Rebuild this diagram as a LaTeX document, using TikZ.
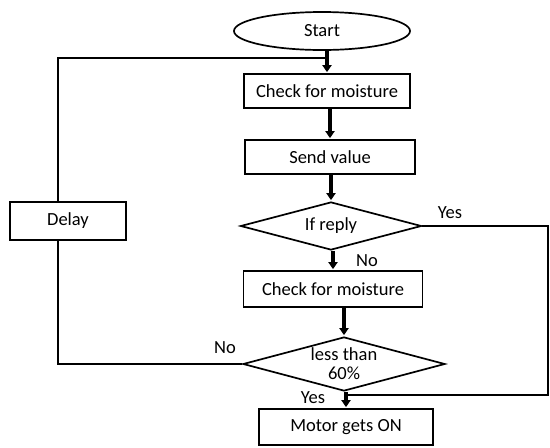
\documentclass[tikz,border=0pt]{standalone}
\usepackage{fontspec}
\setmainfont{Carlito}
\usetikzlibrary{arrows.meta,shapes.geometric}

\begin{document}
\begin{tikzpicture}[x=1pt,y=-1pt,>={Triangle[length=7pt,width=9pt]},
  font=\fontsize{18.5}{19}\selectfont,
  stepbox/.style={draw,line width=1.7pt,minimum height=34pt,inner sep=0pt},
  decide/.style={draw,diamond,line width=1.7pt,aspect=3.8,inner sep=0pt,align=center},
  flow/.style={->,line width=4.8pt,shorten >=1pt},
  back/.style={line width=2.4pt}]

\useasboundingbox (0,0) rectangle (550,448);

% Main column of the flowchart.
\node[draw,ellipse,line width=1.7pt,minimum width=176pt,minimum height=38pt] (start) at (322,31) {Start};
\node[stepbox,minimum width=166pt] (chk1) at (327,91) {Check for moisture};
\node[stepbox,minimum width=170pt] (send) at (330,157) {Send value};
\node[decide,minimum width=181pt,minimum height=48pt] (ifr) at (331,226) {If reply};
\node[stepbox,minimum width=179pt,minimum height=36pt] (chk2) at (333,289) {Check for moisture};
\node[decide,minimum width=202pt,minimum height=54pt] (less) at (344,364) {less than\\60\%};
\node[stepbox,minimum width=174pt,minimum height=36pt] (motor) at (346,427) {Motor gets ON};
\node[stepbox,minimum width=116pt,minimum height=38pt] (delay) at (68,221) {Delay};

% Downward arrows.
\draw[flow] (start.south -| chk1) -- (chk1.north);
\draw[flow] (chk1.south -| send) -- (send.north);
\draw[flow] (send.south -| ifr) -- (ifr.north);
\draw[flow] (ifr.south -| chk2) -- (chk2.north);
\draw[flow] (chk2.south -| less) -- (less.north);
\draw[flow] (less.south -| motor) -- (motor.north);

% Return loop through the delay.
\coordinate (top) at (58,58);
\coordinate (join) at (328,58);
\draw[back] (less.west) -- (less.west -| top) -- (delay.south -| top);
\draw[back] (delay.north -| top) -- (top) -- (join);

% Yes branch of the reply test.
\coordinate (rt) at (548,226);
\coordinate (yesin) at (346,395);
\draw[back] (ifr.east) -- (rt) |- (yesin);

% Branch labels.
\node (yes1) at (450,213) {Yes};
\node (no1) at (367,261) {No};
\node (no2) at (225,348) {No};
\node (yes2) at (313,398) {Yes};

\end{tikzpicture}
\end{document}
